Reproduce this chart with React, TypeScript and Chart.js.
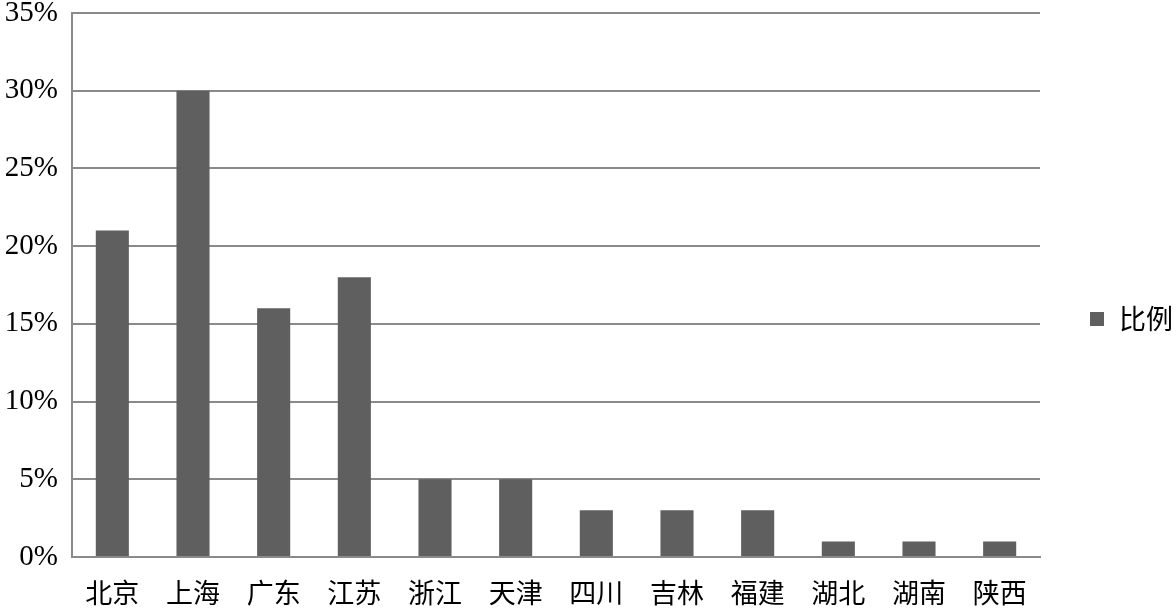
import React, { useEffect, useRef } from "react";
import { Chart, registerables } from "chart.js";

Chart.register(...registerables);

const categories = ["北京", "上海", "广东", "江苏", "浙江", "天津", "四川", "吉林", "福建", "湖北", "湖南", "陕西"];
const seriesLabel = "比例";
const values = [21, 30, 16, 18, 5, 5, 3, 3, 3, 1, 1, 1];
const yTicks = [0, 5, 10, 15, 20, 25, 30, 35];

const BAR_COLOR = "#5f5f5f";
const GRID_COLOR = "#8a8a8a";

const legendPlugin = {
  id: "customLegend",
  afterDraw(chart: any) {
    const ctx = chart.ctx;
    const ds = chart.data.datasets[0];
    ctx.save();
    ctx.fillStyle = ds.backgroundColor;
    ctx.fillRect(1090, 312, 14, 14);
    ctx.fillStyle = "#000";
    ctx.font = '27px "Noto Sans CJK SC"';
    ctx.textBaseline = "middle";
    ctx.textAlign = "left";
    ctx.fillText(ds.label, 1119, 319);
    ctx.restore();
  },
};

export default function App() {
  const ref = useRef<HTMLCanvasElement | null>(null);
  useEffect(() => {
    document.body.style.margin = "0";
    const chart = new Chart(ref.current!, {
      type: "bar",
      data: {
        labels: categories,
        datasets: [
          {
            label: seriesLabel,
            data: values,
            backgroundColor: BAR_COLOR,
            barPercentage: 0.41,
            categoryPercentage: 1,
          },
        ],
      },
      options: {
        animation: false,
        responsive: true,
        maintainAspectRatio: false,
        layout: { padding: { top: 13, right: 136, left: 0, bottom: 0 } },
        plugins: { legend: { display: false }, tooltip: { enabled: false } },
        scales: {
          x: {
            grid: { display: false, drawTicks: false },
            border: { color: GRID_COLOR, width: 2 },
            ticks: {
              color: "#000",
              padding: 20,
              maxRotation: 0,
              autoSkip: false,
              font: { family: '"Noto Sans CJK SC"', size: 27 },
            },
            afterFit(scale: any) {
              scale.height = 52;
              scale.paddingLeft = 0;
              scale.paddingRight = 0;
            },
          },
          y: {
            min: 0,
            max: 35,
            afterBuildTicks(scale: any) {
              scale.ticks = yTicks.map((v) => ({ value: v }));
            },
            grid: { color: GRID_COLOR, lineWidth: 2, drawTicks: false },
            border: { color: GRID_COLOR, width: 2 },
            ticks: {
              color: "#000",
              padding: 14,
              font: { family: '"Liberation Serif"', size: 29 },
              callback: (v: any) => `${v}%`,
            },
            afterFit(scale: any) {
              scale.width = 72;
              scale.paddingTop = 0;
              scale.paddingBottom = 0;
            },
          },
        },
      },
      plugins: [legendPlugin],
    });
    return () => chart.destroy();
  }, []);
  return (
    <div style={{ width: 1176, height: 609, position: "relative" }}>
      <canvas ref={ref} />
    </div>
  );
}
